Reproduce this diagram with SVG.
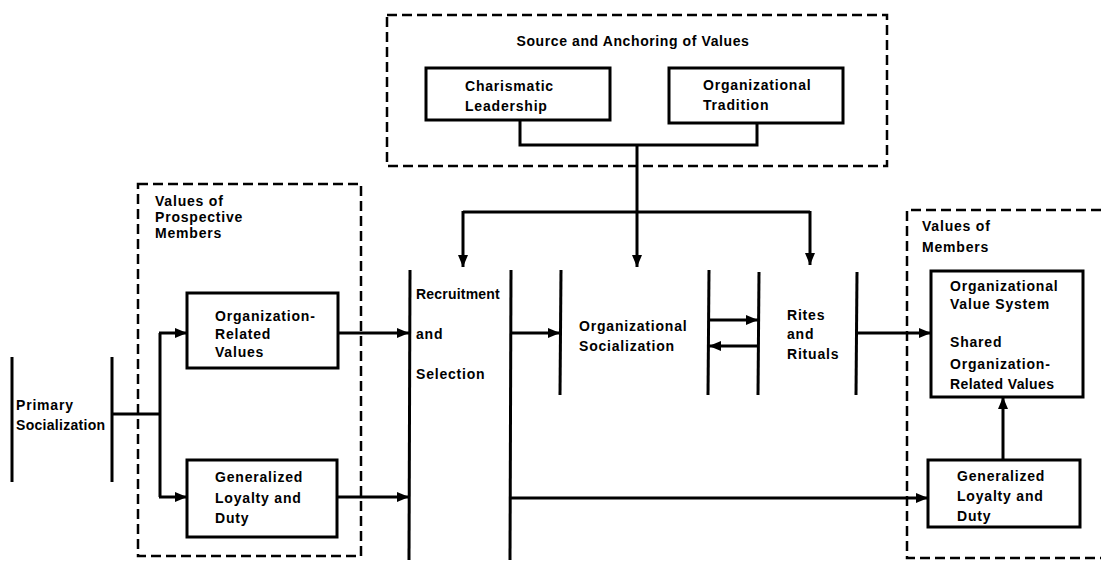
<svg xmlns="http://www.w3.org/2000/svg" width="1101" height="561" viewBox="0 0 1101 561">
<defs>
<marker id="ah" viewBox="0 0 12 10" refX="12" refY="5" markerWidth="12" markerHeight="10" markerUnits="userSpaceOnUse" orient="auto">
<path d="M0,0 L12,5 L0,10 Z" fill="#000"/>
</marker>
</defs>
<style>
.t{font-family:"Liberation Sans",Arial,sans-serif;font-weight:bold;font-size:14px;letter-spacing:0.8px;fill:#000}
.box{fill:#fff;stroke:#000;stroke-width:3}
.dash{fill:none;stroke:#000;stroke-width:2.5;stroke-dasharray:10,5}
.ln{fill:none;stroke:#000;stroke-width:3}
.arr{fill:none;stroke:#000;stroke-width:3;marker-end:url(#ah)}
</style>
<rect width="1101" height="561" fill="#fff"/>

<g id="source-group">
<rect class="dash" x="387" y="15" width="500" height="151"/>
<text class="t" x="633" y="46" text-anchor="middle" style="letter-spacing:0.6px">Source and Anchoring of Values</text>
</g>
<g id="charismatic">
<rect class="box" x="426" y="68" width="184" height="52"/>
<text class="t" x="465" y="91">Charismatic</text>
<text class="t" x="465" y="111">Leadership</text>
</g>
<g id="tradition">
<rect class="box" x="669" y="68" width="174" height="55"/>
<text class="t" x="703" y="90">Organizational</text>
<text class="t" x="703" y="110">Tradition</text>
</g>

<g id="prospective-group">
<rect class="dash" x="138" y="184" width="223" height="372"/>
<text class="t" x="155" y="206">Values of</text>
<text class="t" x="155" y="222">Prospective</text>
<text class="t" x="155" y="238">Members</text>
</g>
<g id="org-related-values">
<rect class="box" x="187" y="293" width="151" height="75"/>
<text class="t" x="215" y="321">Organization-</text>
<text class="t" x="215" y="339">Related</text>
<text class="t" x="215" y="357">Values</text>
</g>
<g id="gen-loyalty-left">
<rect class="box" x="187" y="460" width="150" height="77"/>
<text class="t" x="215" y="482">Generalized</text>
<text class="t" x="215" y="503">Loyalty and</text>
<text class="t" x="215" y="523">Duty</text>
</g>

<g id="primary-socialization">
<line class="ln" x1="12" y1="357" x2="12" y2="482"/>
<line class="ln" x1="112" y1="357" x2="112" y2="482"/>
<text class="t" x="16" y="410">Primary</text>
<text class="t" x="16" y="430" style="letter-spacing:0.3px">Socialization</text>
</g>

<g id="recruitment">
<line class="ln" x1="410" y1="270" x2="409" y2="560"/>
<line class="ln" x1="511" y1="270" x2="510" y2="560"/>
<text class="t" x="416" y="299" style="letter-spacing:0.2px">Recruitment</text>
<text class="t" x="416" y="339">and</text>
<text class="t" x="416" y="379">Selection</text>
</g>

<g id="org-socialization">
<line class="ln" x1="561" y1="270" x2="560" y2="395"/>
<line class="ln" x1="709" y1="270" x2="708" y2="395"/>
<text class="t" x="579" y="331">Organizational</text>
<text class="t" x="579" y="351">Socialization</text>
</g>

<g id="rites">
<line class="ln" x1="759" y1="272" x2="758" y2="395"/>
<line class="ln" x1="857" y1="272" x2="856" y2="395"/>
<text class="t" x="787" y="320">Rites</text>
<text class="t" x="787" y="339">and</text>
<text class="t" x="787" y="359">Rituals</text>
</g>

<g id="members-group">
<path class="dash" d="M1101,210 L907,210 L907,558 L1101,558"/>
<text class="t" x="922" y="231">Values of</text>
<text class="t" x="922" y="252">Members</text>
</g>
<g id="org-value-system">
<rect class="box" x="931" y="271" width="152" height="126"/>
<text class="t" x="950" y="291">Organizational</text>
<text class="t" x="950" y="309">Value System</text>
<text class="t" x="950" y="347">Shared</text>
<text class="t" x="950" y="369">Organization-</text>
<text class="t" x="950" y="389" style="letter-spacing:0.4px">Related Values</text>
</g>
<g id="gen-loyalty-right">
<rect class="box" x="928" y="460" width="152" height="67"/>
<text class="t" x="957" y="481">Generalized</text>
<text class="t" x="957" y="501">Loyalty and</text>
<text class="t" x="957" y="521">Duty</text>
</g>

<g id="connectors">
<path class="ln" d="M520,120 L520,145 L757,145 L757,123"/>
<line class="ln" x1="637" y1="145" x2="637" y2="212"/>
<line class="ln" x1="463" y1="212" x2="810" y2="212"/>
<line class="arr" x1="463" y1="211" x2="463" y2="267"/>
<line class="arr" x1="637" y1="211" x2="637" y2="267"/>
<line class="arr" x1="810" y1="211" x2="810" y2="265"/>
<line class="ln" x1="112" y1="414" x2="160" y2="414"/>
<line class="ln" x1="160" y1="333" x2="160" y2="497"/>
<line class="arr" x1="159" y1="333" x2="187" y2="333"/>
<line class="arr" x1="159" y1="497" x2="187" y2="497"/>
<line class="arr" x1="338" y1="333" x2="409" y2="333"/>
<line class="arr" x1="337" y1="497" x2="409" y2="497"/>
<line class="arr" x1="511" y1="333" x2="560" y2="333"/>
<line class="arr" x1="708" y1="320" x2="758" y2="320"/>
<line class="arr" x1="758" y1="346" x2="709" y2="346"/>
<line class="arr" x1="857" y1="333" x2="931" y2="333"/>
<line class="arr" x1="511" y1="498" x2="928" y2="498"/>
<line class="arr" x1="1003" y1="460" x2="1003" y2="397"/>
</g>
</svg>
